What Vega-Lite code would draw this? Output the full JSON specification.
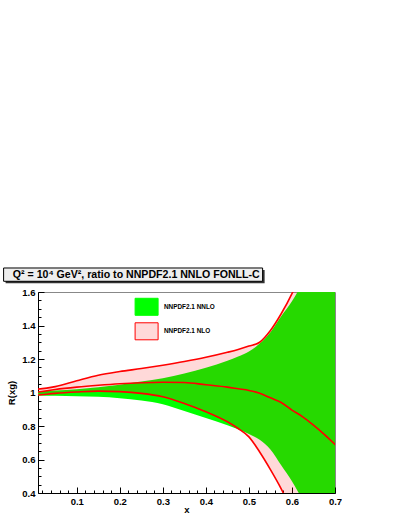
{
  "$schema": "https://vega.github.io/schema/vega-lite/v6.json",
  "padding": {"top": 267, "left": 3, "right": 0, "bottom": 0},
  "width": 297,
  "height": 201,
  "view": {"stroke": "#888"},
  "config": {
    "font": "Liberation Sans",
    "axis": {
      "labelFont": "Liberation Sans", "labelFontWeight": "bold", "labelFontSize": 9.5, "labelColor": "#000",
      "titleFont": "Liberation Sans", "titleFontWeight": "bold", "titleFontSize": 9.5, "titleColor": "#000",
      "domainColor": "#000", "tickColor": "#000", "grid": false, "labelFlush": false, "labelOverlap": false,
      "labelPadding": 9
    }
  },
  "data": {"values": [
    {"x": 0.0, "gl": 0.982, "gh": 1.007, "rl": 0.983, "rh": 1.018, "rc": 1.0},
    {"x": 0.01, "gl": 0.982, "gh": 1.008, "rl": 0.985, "rh": 1.02, "rc": 1.003},
    {"x": 0.05, "gl": 0.98, "gh": 1.012, "rl": 0.995, "rh": 1.035, "rc": 1.018},
    {"x": 0.1, "gl": 0.978, "gh": 1.02, "rl": 1.003, "rh": 1.07, "rc": 1.032},
    {"x": 0.15, "gl": 0.974, "gh": 1.032, "rl": 1.008, "rh": 1.103, "rc": 1.043},
    {"x": 0.2, "gl": 0.966, "gh": 1.047, "rl": 1.005, "rh": 1.125, "rc": 1.052},
    {"x": 0.25, "gl": 0.952, "gh": 1.065, "rl": 0.995, "rh": 1.143, "rc": 1.058},
    {"x": 0.3, "gl": 0.93, "gh": 1.085, "rl": 0.975, "rh": 1.163, "rc": 1.061},
    {"x": 0.35, "gl": 0.89, "gh": 1.113, "rl": 0.935, "rh": 1.185, "rc": 1.06},
    {"x": 0.4, "gl": 0.848, "gh": 1.148, "rl": 0.885, "rh": 1.21, "rc": 1.046},
    {"x": 0.45, "gl": 0.805, "gh": 1.19, "rl": 0.825, "rh": 1.24, "rc": 1.032},
    {"x": 0.475, "gl": 0.78, "gh": 1.215, "rl": 0.785, "rh": 1.257, "rc": 1.022},
    {"x": 0.5, "gl": 0.752, "gh": 1.245, "rl": 0.735, "rh": 1.277, "rc": 1.012},
    {"x": 0.525, "gl": 0.718, "gh": 1.292, "rl": 0.645, "rh": 1.3, "rc": 0.995},
    {"x": 0.55, "gl": 0.66, "gh": 1.36, "rl": 0.54, "rh": 1.37, "rc": 0.968},
    {"x": 0.575, "gl": 0.565, "gh": 1.455, "rl": 0.425, "rh": 1.47, "rc": 0.94},
    {"x": 0.6, "gl": 0.47, "gh": 1.545, "rl": 0.29, "rh": 1.59, "rc": 0.895},
    {"x": 0.625, "gl": 0.355, "gh": 1.655, "rl": 0.14, "rh": 1.74, "rc": 0.855},
    {"x": 0.65, "gl": 0.22, "gh": 1.78, "rl": -0.03, "rh": 1.91, "rc": 0.805},
    {"x": 0.675, "gl": 0.06, "gh": 1.93, "rl": -0.22, "rh": 2.1, "rc": 0.75},
    {"x": 0.7, "gl": -0.12, "gh": 2.1, "rl": -0.45, "rh": 2.32, "rc": 0.69},
    {"x": 0.72, "gl": -0.28, "gh": 2.25, "rl": -0.65, "rh": 2.5, "rc": 0.64}
  ]},
  "resolve": {"axis": {"x": "independent", "y": "independent"}},
  "layer": [
    {
      "mark": {"type": "area", "interpolate": "monotone", "clip": true},
      "encoding": {
        "x": {
          "field": "x", "type": "quantitative",
          "scale": {"domain": [0.01, 0.7], "nice": false, "zero": false},
          "axis": {
            "title": "x",
            "titlePadding": -4,
            "labelOverlap": false,
            "values": [0.02, 0.04, 0.06, 0.08, 0.1, 0.12, 0.14, 0.16, 0.18, 0.2, 0.22, 0.24, 0.26, 0.28, 0.3, 0.32, 0.34, 0.36, 0.38, 0.4, 0.42, 0.44, 0.46, 0.48, 0.5, 0.52, 0.54, 0.56, 0.58, 0.6, 0.62, 0.64, 0.66, 0.68, 0.7],
            "labelExpr": "abs(datum.value*10-round(datum.value*10))<1e-6 ? format(datum.value, '.1f') : ''",
            "tickSize": {"condition": {"test": "abs(datum.value*10-round(datum.value*10))<1e-6", "value": -6}, "value": -3}
          }
        },
        "y": {
          "field": "gl", "type": "quantitative",
          "scale": {"domain": [0.4, 1.6], "nice": false, "zero": false},
          "axis": {
            "title": "R(xg)",
            "titlePadding": 5,
            "labelOverlap": false,
            "values": [0.4, 0.45, 0.5, 0.55, 0.6, 0.65, 0.7, 0.75, 0.8, 0.85, 0.9, 0.95, 1.0, 1.05, 1.1, 1.15, 1.2, 1.25, 1.3, 1.35, 1.4, 1.45, 1.5, 1.55, 1.6],
            "labelExpr": "abs(datum.value*5-round(datum.value*5))<1e-6 ? (abs(datum.value-1)<1e-6 ? '1' : format(datum.value, '.1f')) : ''",
            "tickSize": {"condition": {"test": "abs(datum.value*5-round(datum.value*5))<1e-6", "value": -6}, "value": -3}
          }
        },
        "y2": {"field": "gh"},
        "fill": {
          "datum": "NNPDF2.1 NNLO", "type": "nominal",
          "scale": {"domain": ["NNPDF2.1 NNLO", "NNPDF2.1 NLO"], "range": ["#00ff00", "#ffd9d9"]},
          "legend": {
            "orient": "none", "legendX": 96.6, "legendY": 2.8, "title": null, "padding": 0,
            "symbolType": "M-1,-0.74H1V0.74H-1Z", "symbolSize": 529,
            "labelFont": "Liberation Sans", "labelFontWeight": "bold", "labelFontSize": 6.4, "labelColor": "#000",
            "labelOffset": 5.4, "rowPadding": 1.5,
            "encode": {"symbols": {"update": {
              "stroke": {"signal": "datum.value === 'NNPDF2.1 NLO' ? '#ff0000' : '#00ff00'"},
              "strokeWidth": {"value": 1}
            }}}
          }
        }
      }
    },
    {
      "mark": {"type": "area", "interpolate": "monotone", "clip": true, "fill": "#ff0000", "fillOpacity": 0.15},
      "encoding": {
        "x": {"field": "x", "type": "quantitative", "axis": null},
        "y": {"field": "rl", "type": "quantitative", "axis": null},
        "y2": {"field": "rh"}
      }
    },
    {
      "mark": {"type": "line", "interpolate": "monotone", "clip": true, "color": "#ff0000", "strokeWidth": 1.6},
      "encoding": {
        "x": {"field": "x", "type": "quantitative", "axis": null},
        "y": {"field": "rh", "type": "quantitative", "axis": null}
      }
    },
    {
      "mark": {"type": "line", "interpolate": "monotone", "clip": true, "color": "#ff0000", "strokeWidth": 1.6},
      "encoding": {
        "x": {"field": "x", "type": "quantitative", "axis": null},
        "y": {"field": "rc", "type": "quantitative", "axis": null}
      }
    },
    {
      "mark": {"type": "line", "interpolate": "monotone", "clip": true, "color": "#ff0000", "strokeWidth": 1.6},
      "encoding": {
        "x": {"field": "x", "type": "quantitative", "axis": null},
        "y": {"field": "rl", "type": "quantitative", "axis": null}
      }
    },
    {
      "data": {"values": [{"id": "shadow"}]},
      "mark": {"type": "rect", "clip": false, "fill": "#333333"},
      "encoding": {
        "x": {"datum": -0.0653, "type": "quantitative", "axis": null},
        "x2": {"datum": 0.5365},
        "y": {"datum": 1.7314, "type": "quantitative", "axis": null},
        "y2": {"datum": 1.652}
      }
    },
    {
      "data": {"values": [{"id": "box"}]},
      "mark": {"type": "rect", "clip": false, "fill": "#eeeeee", "stroke": "#000000", "strokeWidth": 1},
      "encoding": {
        "x": {"datum": -0.0699, "type": "quantitative", "axis": null},
        "x2": {"datum": 0.5318},
        "y": {"datum": 1.7433, "type": "quantitative", "axis": null},
        "y2": {"datum": 1.6639}
      }
    },
    {
      "data": {"values": [{"t": "Q² = 10⁴ GeV², ratio to NNPDF2.1 NNLO FONLL-C"}]},
      "mark": {"type": "text", "clip": false, "font": "Liberation Sans", "fontWeight": "bold", "fontSize": 10.6, "baseline": "middle", "align": "center", "color": "#000"},
      "encoding": {
        "x": {"datum": 0.2382, "type": "quantitative", "axis": null},
        "y": {"datum": 1.7039, "type": "quantitative", "axis": null},
        "text": {"field": "t"}
      }
    }
  ]
}
